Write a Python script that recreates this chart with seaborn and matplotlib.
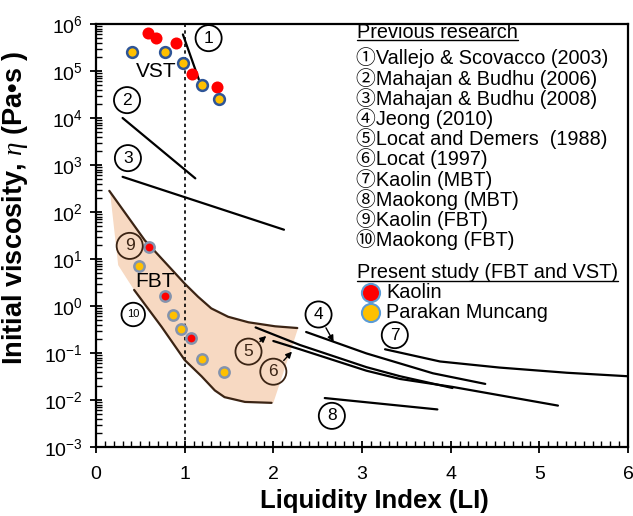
import numpy as np
import pandas as pd
import matplotlib
matplotlib.use("Agg")
import matplotlib.pyplot as plt
import seaborn as sns

# -------------------------------
# DATA
# -------------------------------
# present study, vane shear test (VST)
vst_kaolin_li = [0.59, 0.68, 0.90, 1.08, 1.36]
vst_kaolin_eta = [6.5e5, 5.0e5, 4.0e5, 8.7e4, 4.5e4]
vst_parakan_li = [0.41, 0.78, 0.98, 1.20, 1.39]
vst_parakan_eta = [2.5e5, 2.5e5, 1.5e5, 5.1e4, 2.5e4]

# present study, fall ball test (FBT)
fbt_kaolin_li = [0.60, 0.78, 1.07]
fbt_kaolin_eta = [18.0, 1.6, 0.21]
fbt_parakan_li = [0.49, 0.87, 0.96, 1.20, 1.44]
fbt_parakan_eta = [7.2, 0.65, 0.32, 0.076, 0.039]

# previous research curves
line1_li = [0.98, 1.16]
line1_eta = [6.0e5, 6.6e4]
line2_li = [0.30, 1.12]
line2_eta = [1.0e4, 5.2e2]
line3_li = [0.30, 2.12]
line3_eta = [560, 42]
line4_li = [2.37, 3.05, 3.80, 4.39]
line4_eta = [0.28, 0.098, 0.037, 0.022]
line5_li = [1.80, 2.30, 3.05, 3.43, 4.02]
line5_eta = [0.35, 0.148, 0.050, 0.032, 0.018]
line6_li = [2.00, 2.30, 3.05, 3.43, 4.02, 5.21]
line6_eta = [0.18, 0.12, 0.042, 0.028, 0.019, 0.0076]
line7_li = [3.26, 3.88, 4.55, 5.31, 6.00]
line7_eta = [0.12, 0.066, 0.049, 0.038, 0.032]
line8_li = [2.58, 3.85]
line8_eta = [0.011, 0.0063]

# FBT band (curves 9 and 10)
upper_li = [0.15, 0.55, 1.00, 1.15, 1.30, 1.49, 1.72, 2.02, 2.27]
upper_eta = [282, 25, 3.0, 1.58, 0.89, 0.59, 0.45, 0.37, 0.34]
lower_li = [0.43, 0.74, 1.00, 1.19, 1.34, 1.45, 1.68, 1.98]
lower_eta = [2.2, 0.36, 0.071, 0.032, 0.016, 0.0115, 0.0091, 0.0087]
band_right_li = [2.28, 2.00]
band_right_eta = [0.34, 0.0087]
band_left_li = [0.36, 0.25, 0.16]
band_left_eta = [3.5, 7.4, 250]

# numbered circles on the chart
circle_labels = ["1", "2", "3", "4", "5", "6", "7", "8", "9", "10"]
circle_li = [1.27, 0.35, 0.36, 2.51, 1.72, 2.00, 3.37, 2.66, 0.38, 0.42]
circle_eta = [5.0e5, 2.4e4, 1.4e3, 0.66, 0.107, 0.040, 0.24, 0.0046, 19, 0.66]

legend_items = [
    "①Vallejo & Scovacco (2003)",
    "②Mahajan & Budhu (2006)",
    "③Mahajan & Budhu (2008)",
    "④Jeong (2010)",
    "⑤Locat and Demers  (1988)",
    "⑥Locat (1997)",
    "⑦Kaolin (MBT)",
    "⑧Maokong (MBT)",
    "⑨Kaolin (FBT)",
    "⑩Maokong (FBT)",
]

# -------------------------------
# STYLE
# -------------------------------
sns.set_style("ticks")
plt.rcParams["font.family"] = ["Liberation Sans", "Noto Sans CJK JP", "DejaVu Sans"]
plt.rcParams["mathtext.fontset"] = "custom"
plt.rcParams["mathtext.rm"] = "Liberation Sans"
plt.rcParams["mathtext.it"] = "Liberation Serif:italic"
for key in ["text.color", "axes.labelcolor", "xtick.color", "ytick.color", "axes.edgecolor"]:
    plt.rcParams[key] = "black"

RED = "#ff0000"
YEL = "#ffc000"
BAND = "#f7d9c2"
BROWN = "#3b2414"

fig, ax = plt.subplots(figsize=(6.33, 5.16), dpi=100)
fig.subplots_adjust(left=96 / 633, right=628 / 633, bottom=69 / 516, top=492 / 516)

# FBT shaded band
band_x = upper_li + band_right_li + lower_li[::-1] + band_left_li
band_y = upper_eta + band_right_eta + lower_eta[::-1] + band_left_eta
ax.fill(band_x, band_y, color=BAND, lw=0, zorder=1)

# curves
curves = [
    (line1_li, line1_eta, "black"),
    (line2_li, line2_eta, "black"),
    (line3_li, line3_eta, "black"),
    (line4_li, line4_eta, "black"),
    (line5_li, line5_eta, "black"),
    (line6_li, line6_eta, "black"),
    (line7_li, line7_eta, "black"),
    (line8_li, line8_eta, "black"),
    (upper_li, upper_eta, BROWN),
    (lower_li, lower_eta, BROWN),
]
for xs, ys, col in curves:
    df = pd.DataFrame({"li": xs, "eta": ys})
    sns.lineplot(data=df, x="li", y="eta", color=col, lw=1.6, ax=ax, zorder=3)

ax.axvline(1.0, color="black", lw=1.2, ls=(0, (2, 2)), zorder=2)

# data points
vst_k = pd.DataFrame({"li": vst_kaolin_li, "eta": vst_kaolin_eta})
vst_p = pd.DataFrame({"li": vst_parakan_li, "eta": vst_parakan_eta})
fbt_k = pd.DataFrame({"li": fbt_kaolin_li, "eta": fbt_kaolin_eta})
fbt_p = pd.DataFrame({"li": fbt_parakan_li, "eta": fbt_parakan_eta})

sns.scatterplot(data=vst_k, x="li", y="eta", color=RED, s=75, edgecolor=RED, linewidth=0, ax=ax, zorder=4)
sns.scatterplot(data=vst_p, x="li", y="eta", color=YEL, s=60, edgecolor="#2e5597", linewidth=1.8, ax=ax, zorder=4)
sns.scatterplot(data=fbt_k, x="li", y="eta", color=RED, s=55, edgecolor="#8393ad", linewidth=1.8, ax=ax, zorder=4)
sns.scatterplot(data=fbt_p, x="li", y="eta", color=YEL, s=55, edgecolor="#8393ad", linewidth=1.8, ax=ax, zorder=4)

ax.text(0.68, 9.8e4, "VST", fontsize=15, ha="center", va="center", zorder=5)
ax.text(0.67, 3.3, "FBT", fontsize=15, ha="center", va="center", zorder=5)

# numbered circles
for lab, cx, cy in zip(circle_labels, circle_li, circle_eta):
    on_band = lab in ("5", "6", "9")
    fs = 8 if lab == "10" else 12.5
    ax.text(cx, cy, lab, fontsize=fs, ha="center", va="center", zorder=6,
            color="#3b2414" if on_band else "black",
            bbox=dict(boxstyle="circle,pad=0.32" if lab != "10" else "circle,pad=0.5",
                      fc="none" if on_band else "white",
                      ec=BROWN if on_band else "black", lw=1.3))

# arrows from circles 4, 5, 6
arrow_tips = [(2.68, 0.174), (1.92, 0.23), (2.21, 0.107)]
arrow_from = [(2.51, 0.66), (1.72, 0.107), (2.00, 0.040)]
for tip, src in zip(arrow_tips, arrow_from):
    ax.annotate("", xy=tip, xytext=src, zorder=6,
                arrowprops=dict(arrowstyle="-|>", color="black", lw=1.0,
                                shrinkA=11, shrinkB=0, mutation_scale=9))

# axes
ax.set_yscale("log")
ax.set_xlim(0, 6)
ax.set_ylim(1e-3, 1e6)
ax.set_xticks(np.arange(0, 7, 1))
ax.set_xticks(np.arange(0, 6.01, 0.1), minor=True)
ax.set_yticks([10.0 ** k for k in range(-3, 7)])
ax.tick_params(which="major", direction="inout", length=9, width=1.3, labelsize=14)
ax.tick_params(which="minor", direction="in", length=4, width=1.0)
ax.tick_params(axis="x", pad=9)
ax.tick_params(axis="y", pad=5)
for sp in ax.spines.values():
    sp.set_linewidth(1.6)
    sp.set_visible(True)

ax.set_xlabel("Liquidity Index (LI)", fontsize=18.5, fontweight="bold", labelpad=0)
ax.set_ylabel(r"Initial viscosity, $\eta$ (Pa•s )", fontsize=19.5, fontweight="bold", labelpad=2)
ax.xaxis.set_label_coords(0.523, -0.1)
ax.yaxis.set_label_coords(-0.125, 0.565)

# custom legend box
def fx(px):
    return (px - 96) / 532


def fy(py):
    return (447 - py) / 423


LEG_FS = 14.3
heads = []
heads.append(ax.text(fx(357), fy(32), "Previous research", transform=ax.transAxes,
                     fontsize=LEG_FS, ha="left", va="center"))
for i, item in enumerate(legend_items):
    ax.text(fx(356), fy(58 + i * 20.2), item, transform=ax.transAxes,
            fontsize=LEG_FS, ha="left", va="center")
heads.append(ax.text(fx(357), fy(273), "Present study (FBT and VST)", transform=ax.transAxes,
                     fontsize=LEG_FS, ha="left", va="center"))

leg_markers = pd.DataFrame({"x": [fx(371), fx(371)], "y": [fy(293), fy(313)],
                            "name": ["Kaolin", "Parakan Muncang"]})
sns.scatterplot(data=leg_markers, x="x", y="y", hue="name", palette=[RED, YEL],
                s=170, edgecolor="#5b9bd5", linewidth=1.5, ax=ax,
                transform=ax.transAxes, legend=False, zorder=6, clip_on=False)
for _, row in leg_markers.iterrows():
    ax.text(fx(386), row["y"], row["name"], transform=ax.transAxes,
            fontsize=LEG_FS, ha="left", va="center")

# underline the headings
fig.canvas.draw()
inv = ax.transAxes.inverted()
for t in heads:
    bb = t.get_window_extent()
    (x0, y0), (x1, _) = inv.transform([(bb.x0, bb.y0), (bb.x1, bb.y0)])
    ax.plot([x0, x1], [y0 + 0.004, y0 + 0.004], transform=ax.transAxes, color="black", lw=1.0)

ax.set_xlim(0, 6)
ax.set_ylim(1e-3, 1e6)

plt.savefig("out.png", dpi=100)
